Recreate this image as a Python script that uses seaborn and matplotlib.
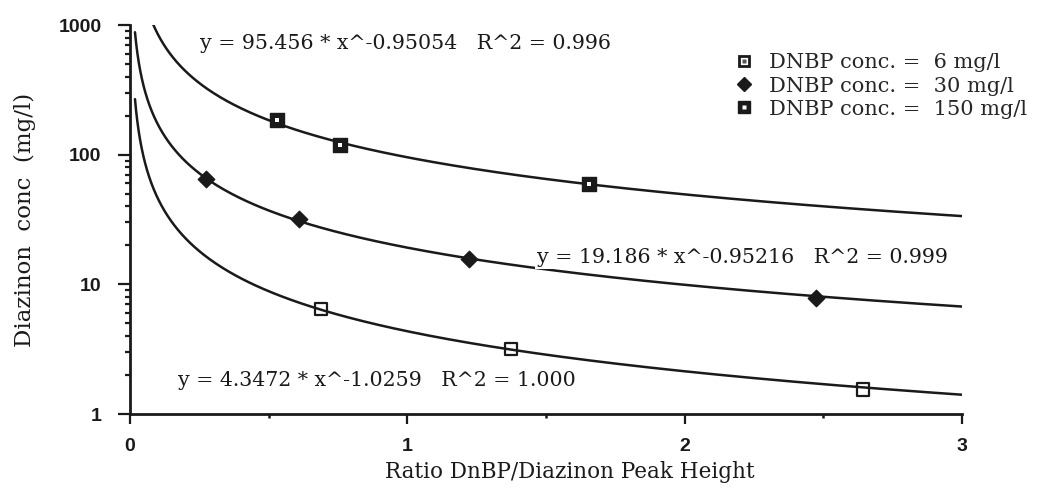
import numpy as np
import pandas as pd
import seaborn as sns
import matplotlib
matplotlib.use("Agg")
import matplotlib.pyplot as plt
from matplotlib.lines import Line2D
from matplotlib.legend_handler import HandlerTuple
from matplotlib.ticker import FixedLocator, NullFormatter, FixedFormatter
from matplotlib.font_manager import FontProperties

# Measured points: ratio DnBP/Diazinon peak height vs diazinon concentration
series_labels = ["DNBP conc. =  6 mg/l", "DNBP conc. =  30 mg/l", "DNBP conc. =  150 mg/l"]
ratio_6 = [0.689, 1.374, 2.642]
conc_6 = [6.45, 3.17, 1.55]
ratio_30 = [0.274, 0.611, 1.224, 2.473]
conc_30 = [64.6, 31.9, 15.6, 7.8]
ratio_150 = [0.529, 0.757, 1.655]
conc_150 = [185.0, 118.7, 59.1]

# Power-law fits y = a * x^b for each DNBP level (6, 30, 150 mg/l)
fit_coef = [4.3472, 19.186, 95.456]
fit_exp = [-1.0259, -0.95216, -0.95054]
fit_r2 = ["1.000", "0.999", "0.996"]
fit_x_range = (0.018, 3.0)

x_ticks = [0, 1, 2, 3]
x_minor = [0.5, 1.5, 2.5]
y_ticks = [1, 10, 100, 1000]
y_tick_labels = ["1", "10", "100", "1000"]

INK = "#1a1a1a"

sns.set_style("ticks")
plt.rcParams["font.family"] = ["DejaVu Serif", "Liberation Serif"]
tick_font = FontProperties(family=["Liberation Sans Narrow", "Liberation Sans", "DejaVu Sans"],
                           weight="bold", size=14)

fig = plt.figure(figsize=(10.4, 4.9), dpi=100)
ax = fig.add_axes([130 / 1040, 1 - 414 / 490, 832 / 1040, 389 / 490])

# fitted curves
curve_frames = []
for a, b, lab in zip(fit_coef, fit_exp, series_labels):
    xs = np.geomspace(fit_x_range[0], fit_x_range[1], 500)
    curve_frames.append(pd.DataFrame({"x": xs, "y": a * xs ** b, "series": lab}))
curves = pd.concat(curve_frames, ignore_index=True)
sns.lineplot(data=curves, x="x", y="y", units="series", estimator=None,
             color=INK, linewidth=1.8, ax=ax, legend=False, zorder=2)

# data markers
sns.scatterplot(x=ratio_6, y=conc_6, marker="s", s=80, facecolor="none",
                edgecolor=INK, linewidth=1.6, ax=ax, zorder=4)
sns.scatterplot(x=ratio_30, y=conc_30, marker="D", s=70, color=INK,
                edgecolor=INK, linewidth=1.0, ax=ax, zorder=4)
sns.scatterplot(x=ratio_150, y=conc_150, marker="s", s=100, color=INK,
                edgecolor=INK, linewidth=1.0, ax=ax, zorder=4)
sns.scatterplot(x=ratio_150, y=conc_150, marker="s", s=8, color="white",
                edgecolor="none", ax=ax, zorder=5)

ax.set_yscale("log")
ax.set_xlim(0, 3)
ax.set_ylim(1, 1000)

ax.xaxis.set_major_locator(FixedLocator(x_ticks))
ax.xaxis.set_minor_locator(FixedLocator(x_minor))
ax.xaxis.set_minor_formatter(NullFormatter())
ax.yaxis.set_major_locator(FixedLocator(y_ticks))
ax.yaxis.set_major_formatter(FixedFormatter(y_tick_labels))
y_minor = [m * d for d in (1, 10, 100) for m in range(2, 10)]
ax.yaxis.set_minor_locator(FixedLocator(y_minor))
ax.yaxis.set_minor_formatter(NullFormatter())

ax.tick_params(axis="y", which="major", direction="out", length=8.5, width=1.6,
               color=INK, pad=12)
ax.tick_params(axis="y", which="minor", direction="out", length=3.5, width=1.6,
               color=INK)
ax.tick_params(axis="x", which="major", direction="out", length=7, width=1.6,
               color=INK, pad=10)
ax.tick_params(axis="x", which="minor", direction="out", length=3, width=1.8,
               color=INK)
for lbl in ax.get_xticklabels() + ax.get_yticklabels():
    lbl.set_fontproperties(tick_font)
    lbl.set_color(INK)

sns.despine(ax=ax)
for side in ("left", "bottom"):
    ax.spines[side].set_linewidth(2.0)
    ax.spines[side].set_color(INK)

ax.set_xlabel("Ratio DnBP/Diazinon Peak Height", fontsize=15.5, color=INK)
ax.set_ylabel("Diazinon  conc  (mg/l)", fontsize=16.5, color=INK)
ax.xaxis.label.set_va("center")
ax.yaxis.label.set_va("center")
ax.xaxis.set_label_coords(0.529, -0.149)
ax.yaxis.set_label_coords(-0.126, 0.499)

# fit equations
eq_pos = [(0.173, 1.80), (1.468, 16.0), (0.252, 726.0)]
for (ex, ey), a, b, r2 in zip(eq_pos, fit_coef, fit_exp, fit_r2):
    ax.text(ex, ey, f"y = {a} * x^{b}   R^2 = {r2}", fontsize=14.8, color=INK,
            va="center", ha="left", zorder=6,
            bbox=dict(facecolor="white", edgecolor="none", pad=1.5))

# legend
h6 = (Line2D([], [], ls="", marker="s", ms=7.5, mfc="white", mec=INK, mew=2.0),
      Line2D([], [], ls="", marker="s", ms=2.5, mfc="#555555", mec="none"))
h30 = Line2D([], [], ls="", marker="D", ms=7.0, mfc=INK, mec=INK)
h150 = (Line2D([], [], ls="", marker="s", ms=8.0, mfc=INK, mec=INK),
        Line2D([], [], ls="", marker="s", ms=2.5, mfc="white", mec="none"))
ax.legend([h6, h30, h150], series_labels, handler_map={tuple: HandlerTuple(ndivide=1)},
          loc="upper left", bbox_to_anchor=(721 / 1040, 1 - 43 / 490),
          bbox_transform=fig.transFigure, frameon=False, fontsize=15,
          handlelength=1.2, handletextpad=0.6, labelspacing=0.2, borderpad=0)

fig.savefig("out.png", dpi=100, facecolor="white")
